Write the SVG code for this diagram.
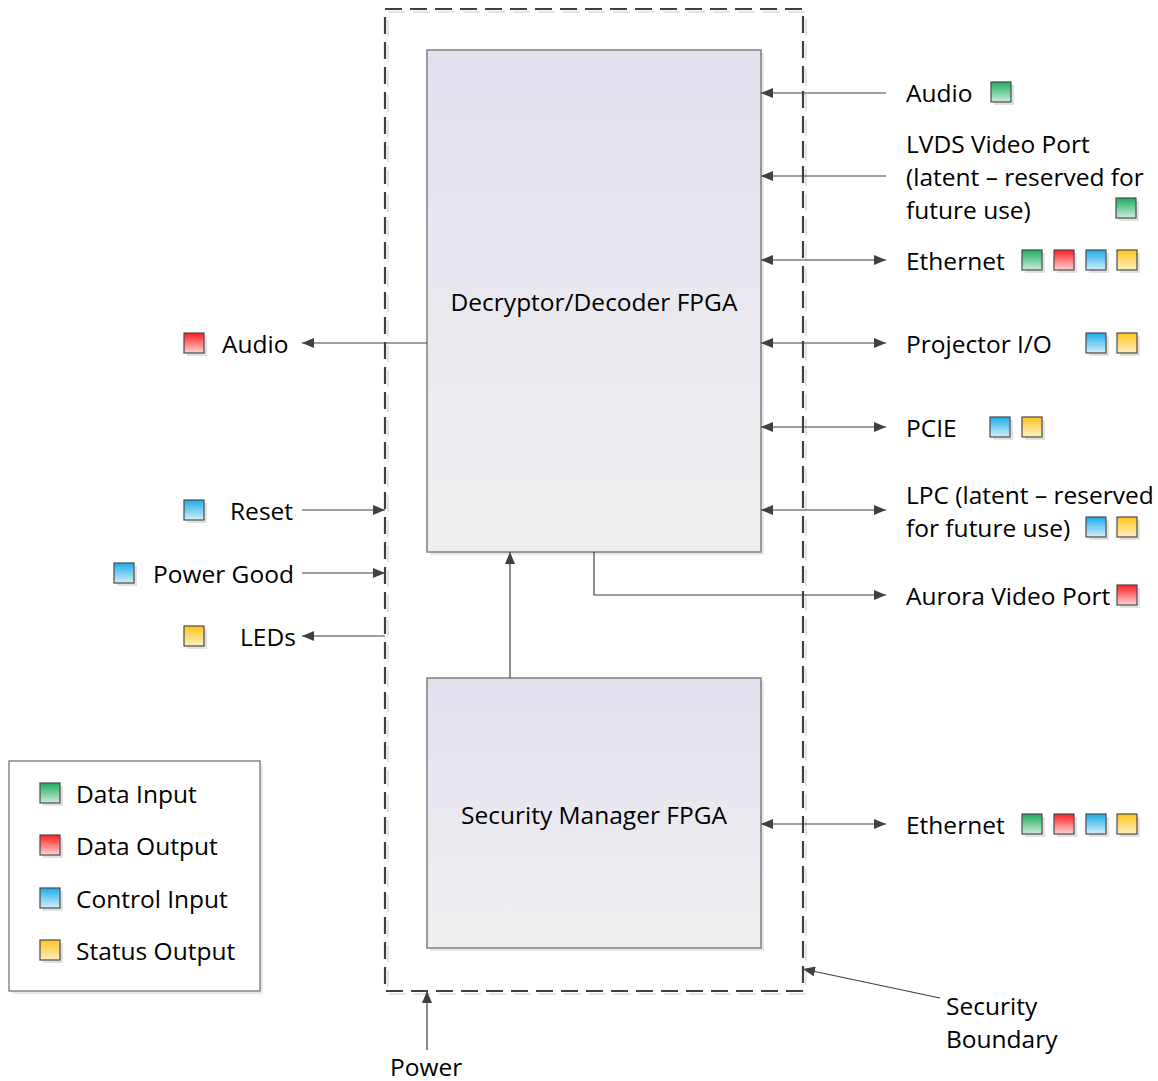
<svg xmlns="http://www.w3.org/2000/svg" width="1158" height="1081" viewBox="0 0 1158 1081">
<defs>
<linearGradient id="gBox" x1="0" y1="0" x2="0" y2="1"><stop offset="0" stop-color="#e4e1ee"/><stop offset="1" stop-color="#efeff1"/></linearGradient>
<linearGradient id="gG" x1="0" y1="0" x2="0" y2="1"><stop offset="0" stop-color="#1fad5e"/><stop offset="1" stop-color="#cdebd8"/></linearGradient>
<linearGradient id="gR" x1="0" y1="0" x2="0" y2="1"><stop offset="0" stop-color="#ff1e1e"/><stop offset="1" stop-color="#ffd4d8"/></linearGradient>
<linearGradient id="gB" x1="0" y1="0" x2="0" y2="1"><stop offset="0" stop-color="#1cadeb"/><stop offset="1" stop-color="#d4edfa"/></linearGradient>
<linearGradient id="gY" x1="0" y1="0" x2="0" y2="1"><stop offset="0" stop-color="#ffc41c"/><stop offset="1" stop-color="#fff0c4"/></linearGradient>
<marker id="ah" viewBox="0 0 12 10" refX="12" refY="5" markerWidth="12" markerHeight="10" markerUnits="userSpaceOnUse" orient="auto-start-reverse"><path d="M0,0 L12,5 L0,10 Z" fill="#404040"/></marker>
<g id="sqG"><rect x="3" y="3" width="20" height="20" fill="#e2e2e2"/><rect width="20" height="20" fill="url(#gG)" stroke="#4a4a4a" stroke-width="1.2"/></g>
<g id="sqR"><rect x="3" y="3" width="20" height="20" fill="#e2e2e2"/><rect width="20" height="20" fill="url(#gR)" stroke="#4a4a4a" stroke-width="1.2"/></g>
<g id="sqB"><rect x="3" y="3" width="20" height="20" fill="#e2e2e2"/><rect width="20" height="20" fill="url(#gB)" stroke="#4a4a4a" stroke-width="1.2"/></g>
<g id="sqY"><rect x="3" y="3" width="20" height="20" fill="#e2e2e2"/><rect width="20" height="20" fill="url(#gY)" stroke="#4a4a4a" stroke-width="1.2"/></g>
</defs>
<style>
text{font-family:"Open Sans","Liberation Sans",sans-serif;font-size:24.5px;fill:#000;dominant-baseline:central}
.box{fill:url(#gBox);stroke:#7f7f7f;stroke-width:1.5}
.c{fill:none;stroke:#404040;stroke-width:1.2}
.mid{text-anchor:middle}
</style>
<rect width="1158" height="1081" fill="#fff"/>

<g id="boundary">
<rect x="388" y="12" width="418" height="982" fill="none" stroke="#e4e4e4" stroke-width="2" stroke-dasharray="17,8"/>
<rect x="385" y="9" width="418" height="982" fill="none" stroke="#404040" stroke-width="2.2" stroke-dasharray="17,8"/>
</g>

<g id="decoder">
<rect x="430" y="53" width="334" height="502" fill="#e8e8e8"/>
<rect class="box" x="427" y="50" width="334" height="502"/>
<text class="mid" x="594" y="301">Decryptor/Decoder FPGA</text>
</g>
<g id="secmgr">
<rect x="430" y="681" width="334" height="270" fill="#e8e8e8"/>
<rect class="box" x="427" y="678" width="334" height="270"/>
<text class="mid" x="594" y="814">Security Manager FPGA</text>
</g>

<g id="connectors">
<line class="c" x1="886" y1="93" x2="761" y2="93" marker-end="url(#ah)"/>
<line class="c" x1="886" y1="176" x2="761" y2="176" marker-end="url(#ah)"/>
<line class="c" x1="761" y1="260" x2="886" y2="260" marker-start="url(#ah)" marker-end="url(#ah)"/>
<line class="c" x1="761" y1="343" x2="886" y2="343" marker-start="url(#ah)" marker-end="url(#ah)"/>
<line class="c" x1="761" y1="427" x2="886" y2="427" marker-start="url(#ah)" marker-end="url(#ah)"/>
<line class="c" x1="761" y1="510" x2="886" y2="510" marker-start="url(#ah)" marker-end="url(#ah)"/>
<polyline class="c" points="594,552 594,595 886,595" marker-end="url(#ah)"/>
<line class="c" x1="761" y1="824" x2="886" y2="824" marker-start="url(#ah)" marker-end="url(#ah)"/>
<line class="c" x1="510" y1="678" x2="510" y2="552" marker-end="url(#ah)"/>
<line class="c" x1="427" y1="343" x2="302" y2="343" marker-end="url(#ah)"/>
<line class="c" x1="302" y1="510" x2="385" y2="510" marker-end="url(#ah)"/>
<line class="c" x1="302" y1="573" x2="385" y2="573" marker-end="url(#ah)"/>
<line class="c" x1="385" y1="636" x2="302" y2="636" marker-end="url(#ah)"/>
<line class="c" x1="427" y1="1050" x2="427" y2="991" stroke="#707070" marker-end="url(#ah)"/>
<line class="c" x1="940" y1="998" x2="803" y2="969" marker-end="url(#ah)"/>
</g>

<g id="right-labels">
<text x="906" y="92">Audio</text><use href="#sqG" x="991" y="82"/>
<text x="906" y="143">LVDS Video Port</text>
<text x="906" y="176">(latent – reserved for</text>
<text x="906" y="209">future use)</text><use href="#sqG" x="1116" y="198"/>
<text x="906" y="260">Ethernet</text>
<use href="#sqG" x="1022" y="250"/><use href="#sqR" x="1054" y="250"/><use href="#sqB" x="1086" y="250"/><use href="#sqY" x="1117" y="250"/>
<text x="906" y="343">Projector I/O</text>
<use href="#sqB" x="1086" y="333"/><use href="#sqY" x="1117" y="333"/>
<text x="906" y="427">PCIE</text>
<use href="#sqB" x="990" y="417"/><use href="#sqY" x="1022" y="417"/>
<text x="906" y="494">LPC (latent – reserved</text>
<text x="906" y="527">for future use)</text>
<use href="#sqB" x="1086" y="517"/><use href="#sqY" x="1117" y="517"/>
<text x="906" y="595">Aurora Video Port</text><use href="#sqR" x="1117" y="585"/>
<text x="906" y="824">Ethernet</text>
<use href="#sqG" x="1022" y="814"/><use href="#sqR" x="1054" y="814"/><use href="#sqB" x="1086" y="814"/><use href="#sqY" x="1117" y="814"/>
</g>

<g id="left-labels">
<use href="#sqR" x="184" y="333"/><text x="222" y="343">Audio</text>
<use href="#sqB" x="184" y="500"/><text x="230" y="510">Reset</text>
<use href="#sqB" x="114" y="563"/><text x="153" y="573">Power Good</text>
<use href="#sqY" x="184" y="626"/><text x="240" y="636">LEDs</text>
</g>

<g id="bottom-labels">
<text x="390" y="1066">Power</text>
<text x="946" y="1005">Security</text>
<text x="946" y="1038">Boundary</text>
</g>

<g id="legend">
<rect x="12" y="764" width="251" height="230" fill="#e8e8e8"/>
<rect x="9" y="761" width="251" height="230" fill="#fff" stroke="#6a6a6a" stroke-width="1.2"/>
<use href="#sqG" x="40" y="783"/><text x="76" y="793">Data Input</text>
<use href="#sqR" x="40" y="835"/><text x="76" y="845">Data Output</text>
<use href="#sqB" x="40" y="888"/><text x="76" y="898">Control Input</text>
<use href="#sqY" x="40" y="940"/><text x="76" y="950">Status Output</text>
</g>
</svg>
